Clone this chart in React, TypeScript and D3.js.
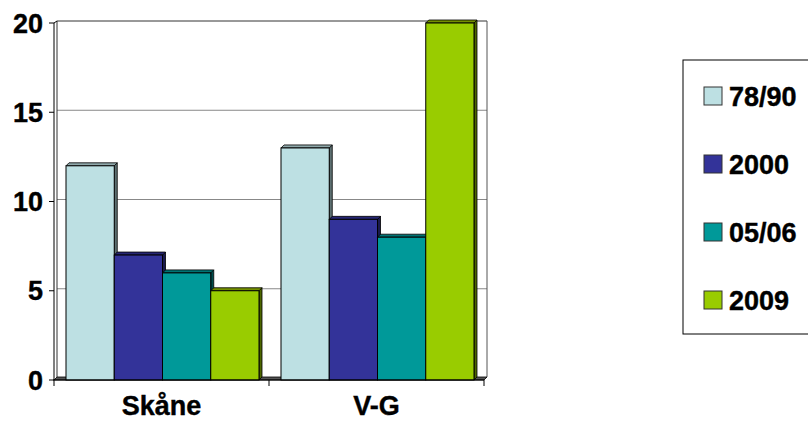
import React from "react";
import * as d3 from "d3";

const categories = ["Skåne", "V-G"];
const series = ["78/90", "2000", "05/06", "2009"];
const valuesSkane = [12, 7, 6, 5];
const valuesVG = [13, 9, 8, 20];
const yTicks = [0, 5, 10, 15, 20];
const colors = ["#BDE0E3", "#333399", "#009999", "#99CC00"];
const sideColors = ["#5E7072", "#1A1A4D", "#004D4D", "#4D6600"];
const topColors = ["#8FA8AA", "#262673", "#007373", "#738F00"];

const data = [valuesSkane, valuesVG];

export default function App() {
  const W = 808, H = 426;
  const left = 54, right = 484, bottom = 380, top = 23;
  const dx = 3, dy = 3;
  const y = d3.scaleLinear().domain([0, 20]).range([bottom, top]);
  const x0 = d3.scaleBand<string>().domain(categories).range([left, right]).padding(0);
  const bw = x0.bandwidth();
  const x1 = d3.scaleBand<string>().domain(series).range([12, bw - 10]).padding(0);
  const font = "'Liberation Sans', Arial, sans-serif";
  const textProps = { fontFamily: font, fontWeight: "bold" as const, fontSize: 27, stroke: "#000", strokeWidth: 0.4 };

  return (
    <svg width={W} height={H} style={{ position: "absolute", left: 0, top: 0, background: "#fff" }}>
      {yTicks.filter(t => t > 0).map(t => (
        <line key={t} x1={left + dx} x2={right + dx} y1={y(t) - dy + 1} y2={y(t) - dy + 1}
          stroke={t === 20 ? "#333" : "#888"} strokeWidth={1} />
      ))}
      <line x1={left + dx} x2={left + dx} y1={y(20) - dy + 1} y2={bottom - dy} stroke="#333" />
      <line x1={right + dx} x2={right + dx} y1={y(20) - dy + 1} y2={bottom - dy} stroke="#555" />
      <line x1={left} x2={left} y1={y(20)} y2={bottom} stroke="#000" />
      <line x1={left} x2={left + dx} y1={y(20)} y2={y(20) - dy + 1} stroke="#000" />
      <polygon points={`${left},${bottom} ${right},${bottom} ${right + dx},${bottom - dy} ${left + dx},${bottom - dy}`}
        fill="#555" stroke="#000" strokeWidth={0.8} />
      {categories.map((c, ci) => (
        <g key={c}>
          {series.map((s, si) => {
            const v = data[ci][si];
            const bx = (x0(c) as number) + (x1(s) as number);
            const w = x1.bandwidth();
            const by = y(v);
            return (
              <g key={s}>
                <polygon points={`${bx + w},${by} ${bx + w + dx},${by - dy} ${bx + w + dx},${bottom - dy} ${bx + w},${bottom}`}
                  fill={sideColors[si]} stroke="#000" strokeWidth={0.8} />
                <polygon points={`${bx},${by} ${bx + dx},${by - dy} ${bx + w + dx},${by - dy} ${bx + w},${by}`}
                  fill={topColors[si]} stroke="#000" strokeWidth={0.8} />
                <rect x={bx} y={by} width={w} height={bottom - by} fill={colors[si]} stroke="#000" strokeWidth={1} />
              </g>
            );
          })}
        </g>
      ))}
      <line x1={left - 1} x2={right} y1={bottom} y2={bottom} stroke="#000" />
      {yTicks.map(t => (
        <g key={t}>
          <line x1={left - 5} x2={left} y1={y(t)} y2={y(t)} stroke="#000" />
          <text x={43} y={y(t)} dy="0.36em" textAnchor="end" {...textProps}>{t}</text>
        </g>
      ))}
      {[left, ...categories.map(c => (x0(c) as number) + bw)].map((tx, i) => (
        <line key={i} x1={tx} x2={tx} y1={bottom} y2={bottom + 6} stroke="#000" />
      ))}
      {categories.map(c => (
        <text key={c} x={(x0(c) as number) + bw / 2} y={415} textAnchor="middle" {...textProps}>{c}</text>
      ))}
      <rect x={683} y={60} width={140} height={274} fill="#fff" stroke="#000" strokeWidth={1} />
      {series.map((s, i) => (
        <g key={s} transform={`translate(0, ${i * 68})`}>
          <rect x={704} y={87} width={18} height={18} fill={colors[i]} stroke="#333" strokeWidth={1} />
          <text x={729} y={106} {...textProps}>{s}</text>
        </g>
      ))}
    </svg>
  );
}
